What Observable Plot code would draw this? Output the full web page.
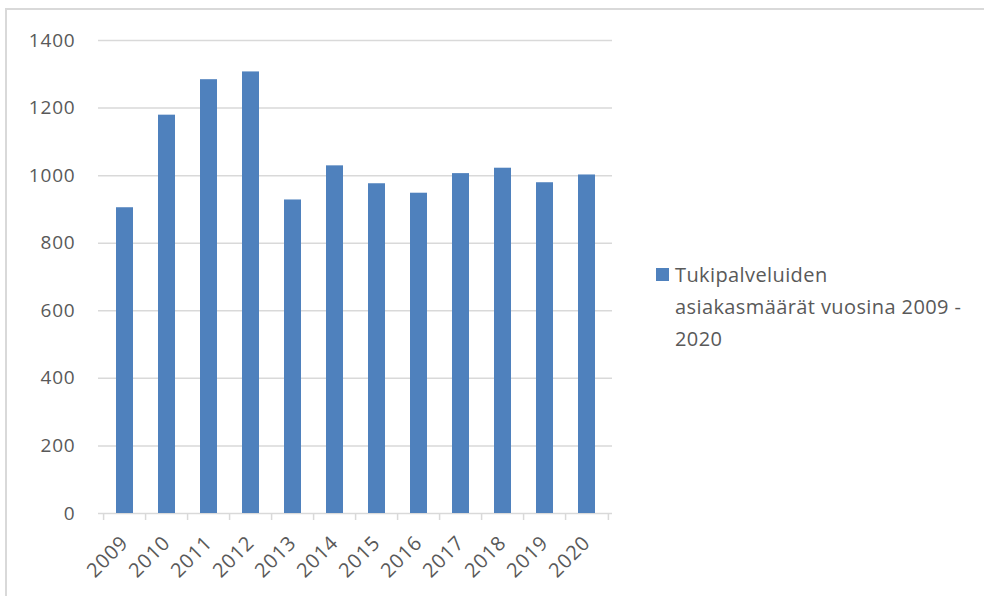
<!DOCTYPE html>
<html>
<head>
<meta charset="utf-8">
<script src="https://cdn.jsdelivr.net/npm/d3@7"></script>
<script src="https://cdn.jsdelivr.net/npm/@observablehq/plot@0.6"></script>
<style>
  body { margin: 0; background: #fff; }
  #wrap { position: relative; width: 984px; height: 596px; overflow: hidden; font-family: "Open Sans", sans-serif; background: #fff; }
  #frame { position: absolute; left: 5px; top: 8px; right: -10px; bottom: -10px; border-left: 2px solid #d9d9d9; border-top: 2px solid #d9d9d9; pointer-events: none; }
  #chart { position: absolute; left: 0; top: 0; }
  #chart [aria-label="x-axis tick label"] text, #chart [aria-label="x-axis"] text { font-size: 20px; }
  #legend { position: absolute; left: 656px; top: 259px; width: 312px; color: #595959; font-size: 20px; line-height: 32px; letter-spacing: 0.4px; }
  #legend .sw { position: absolute; left: 0; top: 9px; width: 13px; height: 13px; background: #4f81bd; }
  #legend .txt { margin-left: 19px; }
</style>
</head>
<body>
<div id="wrap">
  <div id="chart"></div>
  <div id="frame"></div>
  <div id="legend"><span class="sw"></span><div class="txt"></div></div>
</div>
<script>
const years = ["2009","2010","2011","2012","2013","2014","2015","2016","2017","2018","2019","2020"];
const customers = [905, 1179, 1284, 1307, 928, 1029, 976, 948, 1006, 1022, 979, 1002];
const yTicks = [0, 200, 400, 600, 800, 1000, 1200, 1400];
const seriesName = "Tukipalveluiden asiakasmäärät vuosina 2009 - 2020";
const barColor = "#4f81bd";

const data = years.map((year, i) => ({year, value: customers[i]}));

const W = 620, H = 596, mL = 98, mR = 8, mT = 40, mB = 83;
const step = (W - mL - mR) / years.length;

const chart = Plot.plot({
  width: W,
  height: H,
  marginLeft: mL,
  marginRight: mR,
  marginTop: mT,
  marginBottom: mB,
  style: { fontSize: "19px", fontFamily: "'Open Sans', sans-serif", color: "#595959", background: "transparent", letterSpacing: "0.8px" },
  x: { type: "band", domain: years, paddingInner: 0.6, paddingOuter: 0.3, tickSize: 0, tickRotate: -45, tickPadding: 26, label: null },
  y: { domain: [0, 1400], ticks: yTicks, tickFormat: d3.format("d"), tickSize: 0, tickPadding: 23, label: null },
  marks: [
    Plot.ruleY(yTicks, { stroke: "#d9d9d9", strokeWidth: 1.5 }),
    Plot.barY(data, { x: "year", y: "value", fill: barColor }),
    Plot.ruleX(years, { x: d => d, dx: -step / 2, stroke: "#d9d9d9", strokeWidth: 1.5, insetTop: H - mT - mB, insetBottom: -7 }),
    Plot.ruleX(years.slice(-1), { x: d => d, dx: step / 2, stroke: "#d9d9d9", strokeWidth: 1.5, insetTop: H - mT - mB, insetBottom: -7 })
  ]
});
document.getElementById("chart").appendChild(chart);
document.querySelector("#legend .txt").textContent = seriesName;
</script>
</body>
</html>
